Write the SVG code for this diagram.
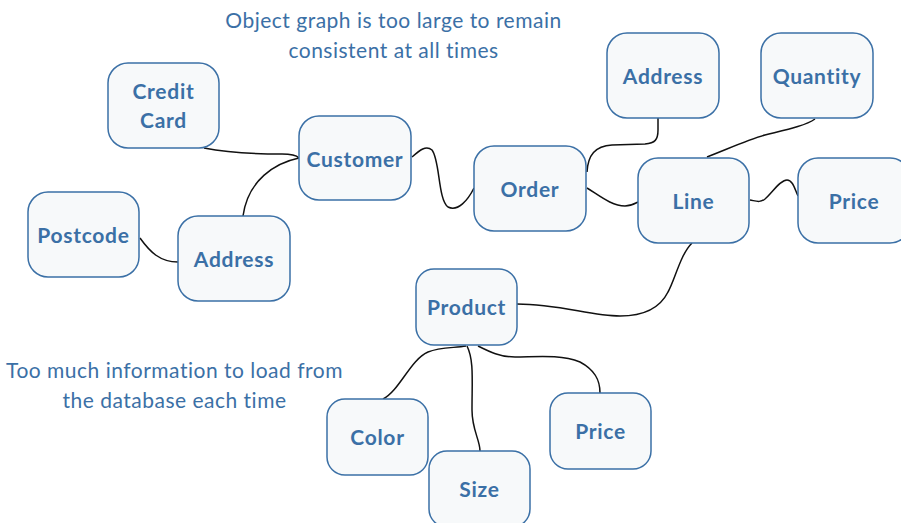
<svg xmlns="http://www.w3.org/2000/svg" width="901" height="523" viewBox="0 0 901 523">
<style>
.n rect{fill:#f7f9fa;stroke:#3b70a6;stroke-width:1.5}
.n text{font-family:Lato,"Open Sans",sans-serif;font-weight:700;font-size:21px;letter-spacing:0.7px;fill:#3b70a6;text-anchor:middle}
.c path{fill:none;stroke:#111;stroke-width:1.5}
.note{font-family:Lato,"Open Sans",sans-serif;font-size:21px;letter-spacing:0.5px;fill:#3b70a6;text-anchor:middle}
</style>
<rect width="901" height="523" fill="#fff"/>
<text class="note" x="393.5" y="28">Object graph is too large to remain</text>
<text class="note" x="393.5" y="58">consistent at all times</text>
<text class="note" x="174.5" y="378">Too much information to load from</text>
<text class="note" x="174.5" y="408">the database each time</text>
<g class="c">
<path d="M204,148 C230,153 260,154 282,154 C292,154 296,155 299,158"/>
<path d="M243,216 C248,180 275,163 299,158"/>
<path d="M140,238 C150,252 160,262 178,262"/>
<path d="M412,157 C420,150 426,145 432,150 C440,160 438,200 448,207 C458,212 468,200 474,188"/>
<path d="M587,172 C588,155 595,146 612,145 L645,144 C655,143 658,140 658,130 L658,118"/>
<path d="M587,188 C600,196 612,206 625,206 C631,206 634,204 638,202"/>
<path d="M707,157 C730,148 750,139 765,135 C785,130 805,126 815,119"/>
<path d="M750,200 C756,201 760,203 765,199 C772,193 780,180 787,180 C793,180 795,190 798,196"/>
<path d="M692,243 C680,255 675,280 668,292 C660,308 645,316 620,316 C590,316 560,304 517,304"/>
<path d="M466,346 C455,348 440,347 428,352 C410,360 400,390 383,399"/>
<path d="M467,346 C474,360 472,380 472,410 C472,430 480,440 480,451"/>
<path d="M478,346 C490,352 500,357 515,357 C535,357 560,354 580,362 C595,370 600,380 600,393"/>
</g>
<g id="credit-card" class="n"><rect x="108" y="63" width="111" height="85" rx="20"/><text x="163.5" y="99">Credit</text><text x="163.5" y="128">Card</text></g>
<g id="customer" class="n"><rect x="299" y="116" width="112" height="84" rx="20"/><text x="355" y="167">Customer</text></g>
<g id="postcode" class="n"><rect x="28" y="192" width="111" height="85" rx="20"/><text x="83.5" y="243">Postcode</text></g>
<g id="address-customer" class="n"><rect x="178" y="216" width="112" height="85" rx="20"/><text x="234" y="267">Address</text></g>
<g id="order" class="n"><rect x="474" y="146" width="112" height="85" rx="20"/><text x="530" y="197">Order</text></g>
<g id="address-order" class="n"><rect x="607" y="33" width="112" height="85" rx="20"/><text x="663" y="84">Address</text></g>
<g id="quantity" class="n"><rect x="761" y="33" width="112" height="85" rx="20"/><text x="817" y="84">Quantity</text></g>
<g id="line" class="n"><rect x="638" y="158" width="111" height="85" rx="20"/><text x="693.5" y="209">Line</text></g>
<g id="price-line" class="n"><rect x="798" y="158" width="112" height="85" rx="20"/><text x="854" y="209">Price</text></g>
<g id="product" class="n"><rect x="416" y="269" width="101" height="76" rx="18"/><text x="466.5" y="315">Product</text></g>
<g id="color" class="n"><rect x="327" y="399" width="101" height="76" rx="18"/><text x="377.5" y="445">Color</text></g>
<g id="size" class="n"><rect x="429" y="451" width="101" height="76" rx="18"/><text x="479.5" y="497">Size</text></g>
<g id="price-product" class="n"><rect x="550" y="393" width="101" height="76" rx="18"/><text x="600.5" y="439">Price</text></g>
</svg>
